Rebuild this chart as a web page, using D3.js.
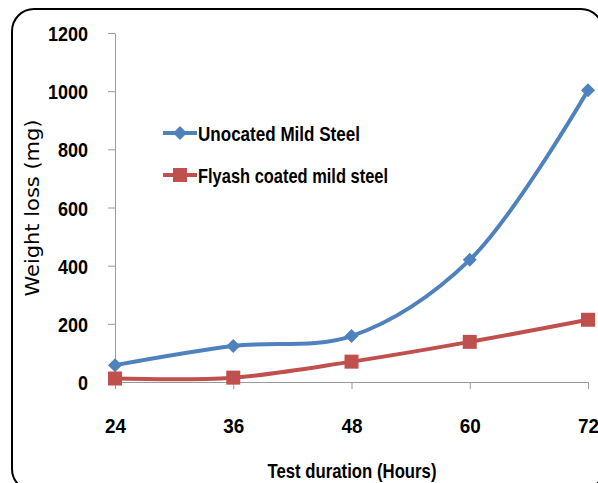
<!DOCTYPE html>
<html>
<head>
<meta charset="utf-8">
<script src="https://cdn.jsdelivr.net/npm/d3@7"></script>
<style>
  body { margin: 0; background: #fff; }
  .tick text { font-family: "Liberation Sans", sans-serif; font-weight: bold; font-size: 21px; fill: #000; }
</style>
</head>
<body>
<div class="chart-container"></div>
<script>
/********** the Data **********/
const hours = [24, 36, 48, 60, 72];
const uncoated = [58, 124, 158, 420, 1003];
const flyash = [12, 15, 70, 138, 214];
const yTicks = [0, 200, 400, 600, 800, 1000, 1200];
const seriesNames = ["Unocated Mild Steel", "Flyash coated mild steel"];

/********** drawChart **********/
let width = 598, height = 483;
let bodyFont = "'Liberation Sans', sans-serif";

let svg = d3.select(".chart-container").append("svg")
  .attr("width", width)
  .attr("height", height);

// rounded frame, cut off at right and bottom like the picture
svg.append("rect")
  .attr("x", 12).attr("y", 9)
  .attr("width", 591).attr("height", 482)
  .attr("rx", 22).attr("ry", 22)
  .attr("fill", "none")
  .attr("stroke", "#000")
  .attr("stroke-width", 2);

let xScale = d3.scaleLinear().domain([24, 72]).range([115, 588]);
let yScale = d3.scaleLinear().domain([0, 1200]).range([382, 33]);

// squeeze a bold label to a narrow (Calibri-like) width
function squeeze(sel, perChar) {
  sel.attr("textLength", function () { return this.textContent.length * perChar; })
     .attr("lengthAdjust", "spacingAndGlyphs");
}

// X axis
let xAxis = svg.append("g")
  .attr("transform", `translate(0, ${yScale(0)})`)
  .call(d3.axisBottom(xScale).tickValues(hours).tickSize(7).tickSizeOuter(0).tickFormat(d3.format("d")));
xAxis.select(".domain").attr("stroke", "#9a9a9a");
xAxis.selectAll(".tick line").attr("stroke", "#9a9a9a");
xAxis.selectAll(".tick text").attr("y", 51).attr("dy", null);
squeeze(xAxis.selectAll(".tick text"), 10.5);

// Y axis
let yAxis = svg.append("g")
  .attr("transform", `translate(${xScale(24)}, 0)`)
  .call(d3.axisLeft(yScale).tickValues(yTicks).tickSize(7).tickSizeOuter(0).tickPadding(20).tickFormat(d3.format("d")));
yAxis.select(".domain").attr("stroke", "#9a9a9a");
yAxis.selectAll(".tick line").attr("stroke", "#9a9a9a");
yAxis.selectAll(".tick text").attr("dy", "0.36em");
squeeze(yAxis.selectAll(".tick text"), 10);

// axis titles
svg.append("text")
  .attr("transform", "translate(39, 208) rotate(-90)")
  .attr("text-anchor", "middle")
  .attr("textLength", 177)
  .attr("lengthAdjust", "spacingAndGlyphs")
  .style("font-family", "'DejaVu Sans', sans-serif")
  .style("font-size", "19px")
  .text("Weight loss (mg)");

svg.append("text")
  .attr("x", 352).attr("y", 478)
  .attr("text-anchor", "middle")
  .attr("textLength", 169)
  .attr("lengthAdjust", "spacingAndGlyphs")
  .style("font-family", bodyFont)
  .style("font-weight", "bold")
  .style("font-size", "21px")
  .text("Test duration (Hours)");

// lines
let blue = "#4f81bd", red = "#c0504d";
let line = d3.line()
  .x((d, i) => xScale(hours[i]))
  .y(d => yScale(d))
  .curve(d3.curveCatmullRom.alpha(0.5));

svg.append("path").datum(uncoated)
  .attr("d", line).attr("fill", "none")
  .attr("stroke", blue).attr("stroke-width", 4);
svg.append("path").datum(flyash)
  .attr("d", line).attr("fill", "none")
  .attr("stroke", red).attr("stroke-width", 4);

// markers
let diamond = d3.symbol().type(d3.symbolDiamond2).size(125);
svg.selectAll(".pt-blue").data(uncoated).enter().append("path")
  .attr("class", "pt-blue")
  .attr("transform", (d, i) => `translate(${xScale(hours[i])}, ${yScale(d)})`)
  .attr("d", diamond)
  .attr("fill", blue);

svg.selectAll(".pt-red").data(flyash).enter().append("rect")
  .attr("class", "pt-red")
  .attr("x", (d, i) => xScale(hours[i]) - 7)
  .attr("y", d => yScale(d) - 7)
  .attr("width", 14).attr("height", 14)
  .attr("fill", red);

// legend
let legend = svg.append("g").attr("transform", "translate(163, 0)");
let legendY = [133, 175];
let legendLen = [162, 190];
[blue, red].forEach((c, i) => {
  legend.append("line")
    .attr("x1", 0).attr("x2", 34)
    .attr("y1", legendY[i]).attr("y2", legendY[i])
    .attr("stroke", c).attr("stroke-width", 4);
  if (i === 0) {
    legend.append("path")
      .attr("transform", `translate(17, ${legendY[i]})`)
      .attr("d", diamond).attr("fill", c);
  } else {
    legend.append("rect")
      .attr("x", 10).attr("y", legendY[i] - 7)
      .attr("width", 14).attr("height", 14)
      .attr("fill", c);
  }
  legend.append("text")
    .attr("x", 35).attr("y", legendY[i])
    .attr("dy", "0.36em")
    .attr("textLength", legendLen[i])
    .attr("lengthAdjust", "spacingAndGlyphs")
    .style("font-family", bodyFont)
    .style("font-weight", "bold")
    .style("font-size", "21px")
    .text(seriesNames[i]);
});
</script>
</body>
</html>
